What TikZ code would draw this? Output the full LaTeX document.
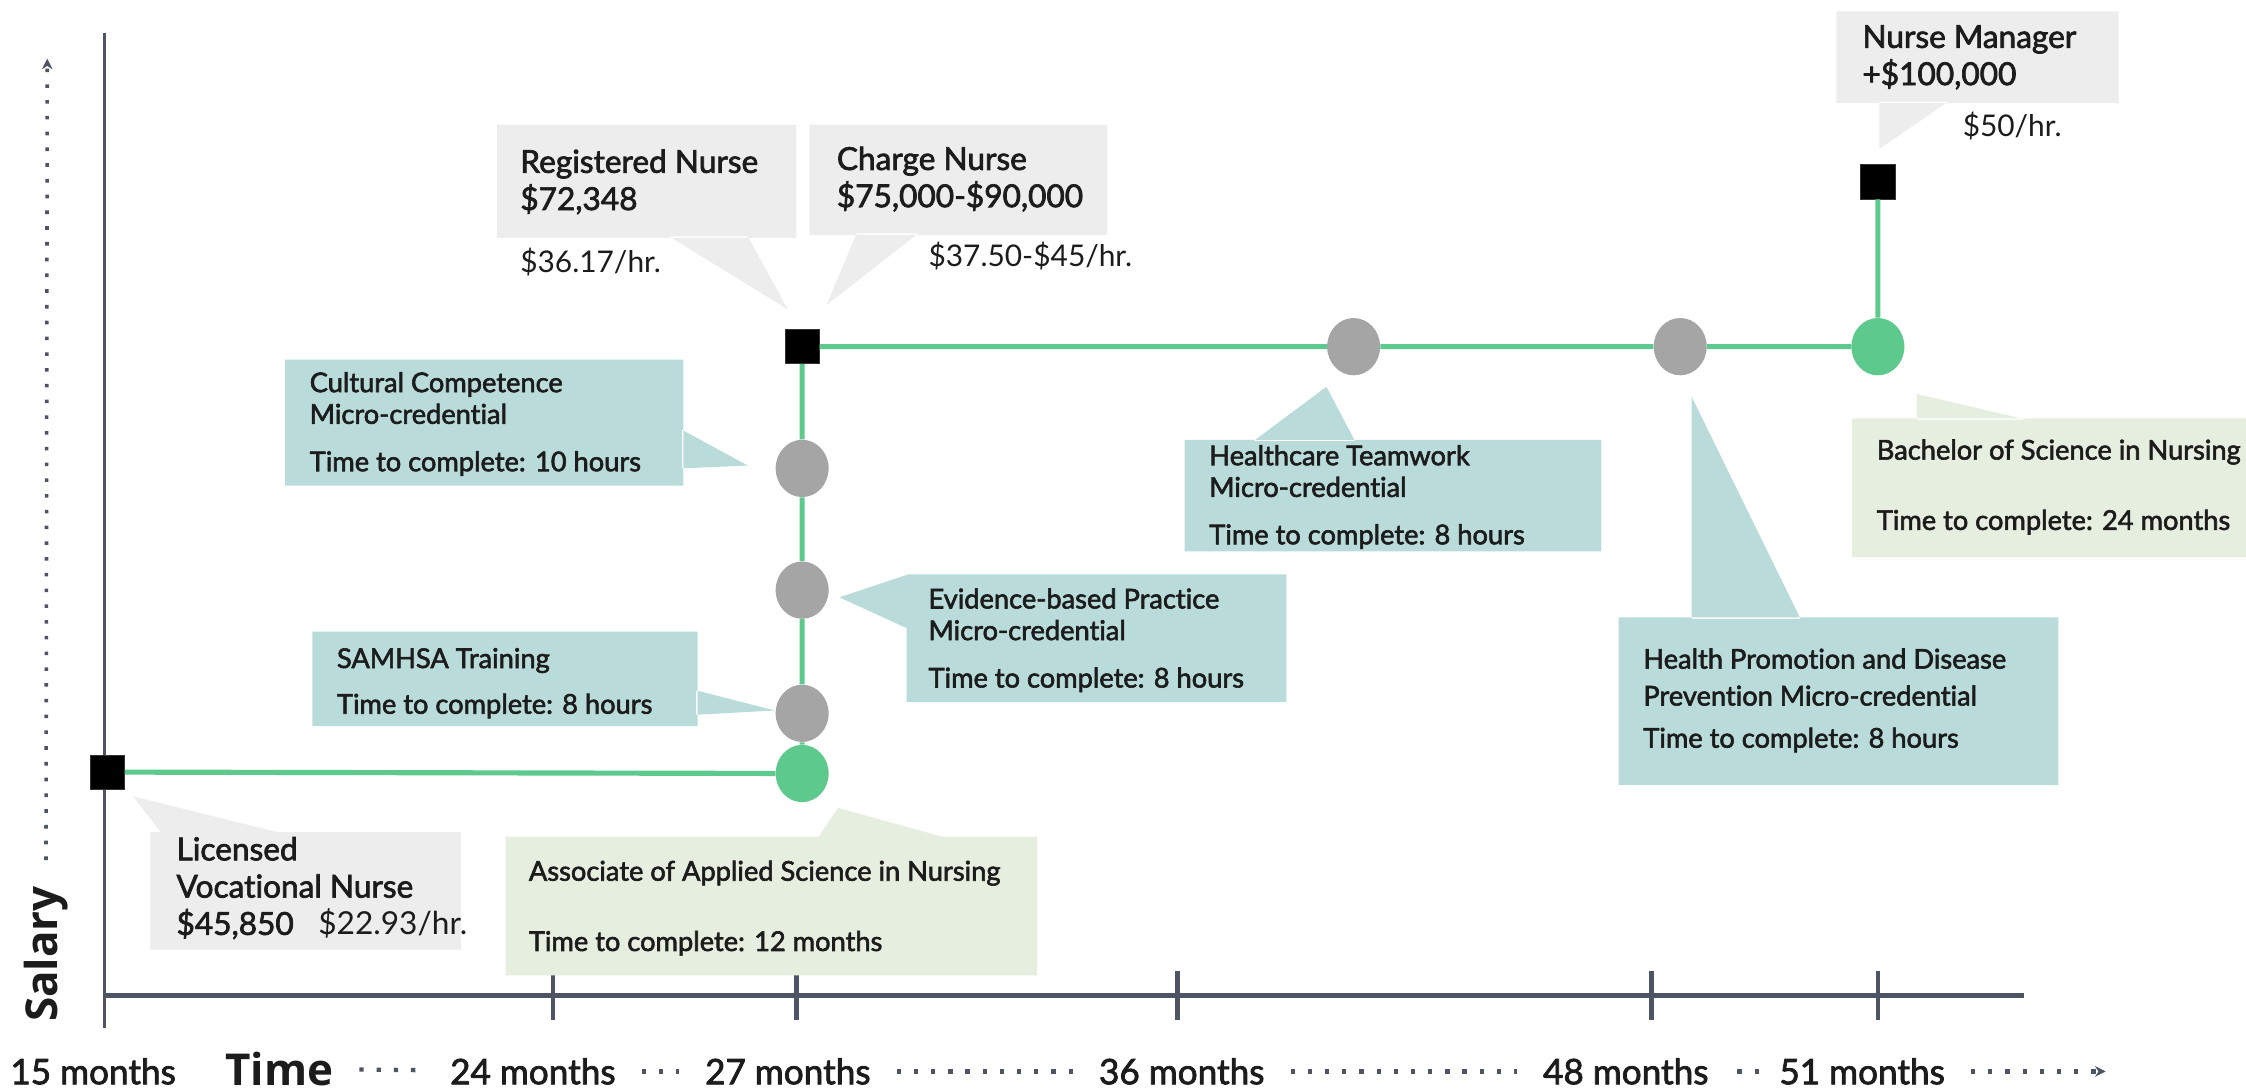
\documentclass[tikz,border=0pt]{standalone}
\usepackage{fontspec}
\setmainfont{Lato}[Ligatures=NoCommon]
\newfontfamily\medfont{Lato}[FakeBold=2.2, Ligatures=NoCommon]
\newfontfamily\headfont{Open Sans}
\usetikzlibrary{shapes.geometric,arrows.meta}

\newdimen\ux \ux=0.2865mm
\definecolor{pathgreen}{HTML}{5EC98C}
\definecolor{stepgray}{HTML}{A5A5A5}
\definecolor{axisgray}{HTML}{4D5463}
\definecolor{jobfill}{HTML}{EDEDED}
\definecolor{microfill}{HTML}{B9DCDB}
\definecolor{degreefill}{HTML}{E6EFDF}
\definecolor{ink}{HTML}{1C1C1C}

\tikzset{
  jobsq/.style={rectangle, fill=black, draw=black!80, minimum size=24\ux, inner sep=0pt},
  course/.style={ellipse, fill=stepgray, minimum width=37\ux, minimum height=40\ux, inner sep=0pt},
  degree/.style={ellipse, fill=pathgreen, minimum width=37\ux, minimum height=40\ux, inner sep=0pt},
  route/.style={draw=pathgreen, line width=3.6\ux},
  jobtext/.style={anchor=west, align=left, inner sep=0pt, text=ink, font=\medfont\fontsize{18}{21.2}\selectfont},
  ratetext/.style={anchor=west, inner sep=0pt, text=ink, font=\fontsize{17}{20}\selectfont},
  infotext/.style={anchor=west, align=left, inner sep=0pt, text=ink, font=\medfont\fontsize{15.5}{18}\selectfont},
  monthlabel/.style={inner sep=0pt, text=ink, font=\medfont\fontsize{20}{24}\selectfont},
  axislabel/.style={inner sep=0pt, text=ink, font=\headfont\bfseries\fontsize{25}{30}\selectfont},
  dotline/.style={draw=axisgray, line width=3\ux, dash pattern=on 3\ux off 9\ux,
    shorten <=18\ux, shorten >=18\ux},
}

\begin{document}
\begin{tikzpicture}[x=0.2865mm, y=-0.2865mm]
\useasboundingbox (0,0) rectangle (1568,762);

% axes
\draw[axisgray, line width=2\ux] (73,23) -- (73,718);
\draw[axisgray, line width=3\ux] (73,695) -- (1413,695);
\foreach \t in {386,556,822,1153,1311}
  \draw[axisgray, line width=3\ux] (\t,678) -- (\t,712);

\node[monthlabel] (m15) at (65,748) {15 months};
\node[axislabel] (time) at (195,746) {Time};
\node[monthlabel] (m24) at (372,748) {24 months};
\node[monthlabel] (m27) at (550,748) {27 months};
\node[monthlabel] (m36) at (825,748) {36 months};
\node[monthlabel] (m48) at (1135,748) {48 months};
\node[monthlabel] (m51) at (1300,748) {51 months};
\coordinate (tend) at (1470,748);
\draw[dotline] (time) -- (m24);
\draw[dotline] (m24) -- (m27);
\draw[dotline] (m27) -- (m36);
\draw[dotline] (m36) -- (m48);
\draw[dotline, shorten <=20\ux, shorten >=6\ux] (m48) -- (m51);
\draw[dotline, shorten >=0pt, -{Stealth[length=6pt,width=6pt]}] (m51) -- (tend);

\node[axislabel, rotate=90] (salary) at (32,666) {Salary};
\coordinate (stop) at (33,41);
\draw[dotline, line width=2.5\ux, dash pattern=on 2.5\ux off 8.5\ux, shorten >=0pt,
  -{Stealth[length=6pt,width=6pt]}] (salary) -- (stop);

% callout boxes
\fill[jobfill] (347,87) rectangle (556,166) (467,165) -- (522,165) -- (550,216) -- cycle;
\fill[jobfill] (565,87) rectangle (773,164) (598,163) -- (641,163) -- (577,213) -- cycle;
\fill[jobfill] (1282,8) rectangle (1479,72) (1312,71) -- (1360,71) -- (1312,104) -- cycle;
\fill[jobfill] (105,581) rectangle (322,663) (113,582) -- (198,582) -- (93,556) -- cycle;
\fill[degreefill] (353,584) rectangle (724,681) (571,585) -- (661,585) -- (585,564) -- cycle;
\fill[degreefill] (1293,292) rectangle (1568,389) (1338,293) -- (1338,275) -- (1415,293) -- cycle;
\fill[microfill] (218,441) rectangle (487,507) (486,482) -- (541,496) -- (486,499) -- cycle;
\fill[microfill] (199,251) rectangle (477,339) (476,300) -- (522,325) -- (476,327) -- cycle;
\fill[microfill] (633,401) rectangle (898,490) (634,401) -- (586,417) -- (634,439) -- cycle;
\fill[microfill] (827,307) rectangle (1118,385) (875,308) -- (926,270) -- (946,308) -- cycle;
\fill[microfill] (1130,431) rectangle (1437,548) (1181,432) -- (1181,277) -- (1257,432) -- cycle;

% career path
\node[jobsq] (lvnsq) at (75,539) {};
\node[degree] (aasdot) at (560,540) {};
\node[course] (samdot) at (560,498) {};
\node[course] (ebpdot) at (560,412) {};
\node[course] (ccdot) at (560,327) {};
\node[jobsq] (rnsq) at (560,242) {};
\node[course] (htdot) at (945,242) {};
\node[course] (hpdot) at (1173,242) {};
\node[degree] (bsndot) at (1311,242) {};
\node[jobsq] (nmsq) at (1311,127) {};
\draw[route] (lvnsq) -- (aasdot) -- (samdot) -- (ebpdot) -- (ccdot) -- (rnsq)
  -- (htdot) -- (hpdot) -- (bsndot) -- (nmsq);

\node[jobtext] (rn) at (363,127) {Registered Nurse\\\$72,348};
\node[ratetext] (rnrate) at (363,183) {\$36.17/hr.};
\node[jobtext] (charge) at (584,125) {Charge Nurse\\\mbox{\$75,000-\$90,000}};
\node[ratetext] (chargerate) at (648,179) {\mbox{\$37.50-\$45/hr.}};
\node[jobtext] (nm) at (1300,40) {Nurse Manager\\+\$100,000};
\node[ratetext] (nmrate) at (1370,88) {\$50/hr.};
\node[jobtext] (lvn) at (123,620) {Licensed\\Vocational Nurse\\\mbox{\$45,850\hspace{14pt}{\normalfont\$22.93/hr.}}};

\node[infotext] (aas) at (369,634) {Associate of Applied Science in Nursing\\[22pt]Time to complete: 12 months};
\node[infotext] (bsn) at (1310,340) {Bachelor of Science in Nursing\\[22pt]Time to complete: 24 months};
\node[infotext] (sam) at (235,477) {SAMHSA Training\\[8pt]Time to complete: 8 hours};
\node[infotext] (cc) at (216,296) {Cultural Competence\\Micro-credential\\[9pt]Time to complete: 10 hours};
\node[infotext] (ebp) at (648,447) {Evidence-based Practice\\Micro-credential\\[9pt]Time to complete: 8 hours};
\node[infotext] (ht) at (844,347) {Healthcare Teamwork\\Micro-credential\\[9pt]Time to complete: 8 hours};
\node[infotext] (hp) at (1147,489) {Health Promotion and Disease\\[3pt]Prevention Micro-credential\\[6pt]Time to complete: 8 hours};
\end{tikzpicture}
\end{document}
